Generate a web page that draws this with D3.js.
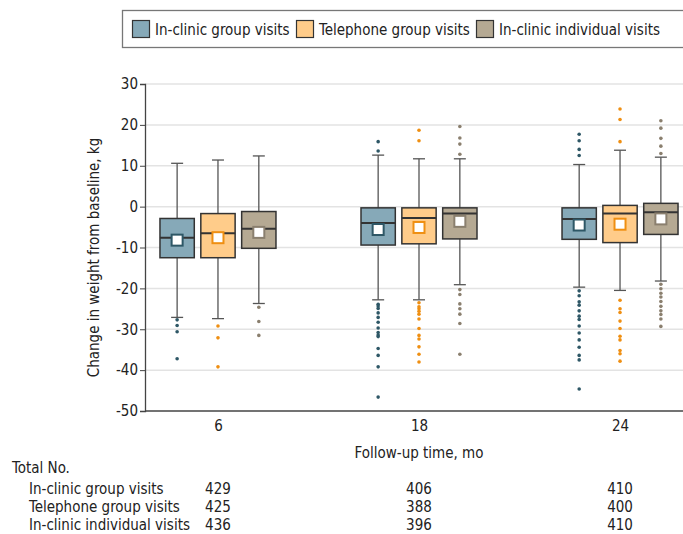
<!DOCTYPE html>
<html>
<head>
<meta charset="utf-8">
<script src="https://cdn.jsdelivr.net/npm/d3@7"></script>
<style>
  body { margin: 0; background: #fff; }
  svg text { font-family: "Liberation Sans Narrow", "DejaVu Sans Condensed", "Roboto", sans-serif; fill: #222; }
</style>
</head>
<body>
<div id="chart"></div>
<script>
// data
const months = ["6", "18", "24"];
const groups = ["In-clinic group visits", "Telephone group visits", "In-clinic individual visits"];
const fills = ["#86a9b8", "#ffcc8a", "#b5a993"];
const darks = ["#2e5766", "#ef8f12", "#8a7f6e"];
const yTicks = [30, 20, 10, 0, -10, -20, -30, -40, -50];

// [q1, median, q3, whiskerLow, whiskerHigh, mean] per month, per group
const statsClinicGroup = [
  [-12.5, -7.6, -2.9, -27.1, 10.6, -8.2],
  [-9.4, -4.0, -0.3, -22.8, 12.6, -5.6],
  [-8.0, -3.0, -0.3, -19.7, 10.3, -4.5]
];
const statsTelephone = [
  [-12.5, -6.5, -1.7, -27.4, 11.4, -7.6],
  [-9.1, -2.8, -0.3, -22.8, 11.7, -5.1],
  [-8.8, -1.7, 0.3, -20.5, 13.8, -4.3]
];
const statsIndividual = [
  [-10.2, -5.4, -1.2, -23.7, 12.4, -6.3],
  [-7.9, -1.7, -0.3, -19.1, 11.7, -3.6],
  [-6.8, -1.4, 0.8, -18.2, 12.1, -3.0]
];

const outClinicGroup = [
  [-27.7, -29.1, -30.6, -37.2],
  [13.6, 15.9, -23.9, -24.3, -24.9, -26.0, -27.1, -28.3, -29.7, -30.8, -31.4, -31.8, -34.7, -36.4, -39.2, -46.6],
  [17.7, 16.1, 14.0, 12.5, -20.6, -21.8, -23.3, -24.1, -25.5, -26.8, -27.6, -29.2, -30.9, -32.6, -34.4, -36.4, -37.5, -44.6]
];
const outTelephone = [
  [-29.2, -32.1, -39.2],
  [18.7, 16.1, -23.5, -24.5, -25.0, -25.6, -26.3, -27.5, -29.8, -31.5, -32.4, -34.3, -36.1, -38.0],
  [23.9, 21.3, 15.9, -22.9, -25.0, -25.9, -28.0, -29.8, -31.7, -32.6, -35.2, -36.0, -37.8]
];
const outIndividual = [
  [-24.6, -28.1, -31.5],
  [19.6, 16.8, 15.3, 12.8, -20.3, -21.5, -23.8, -25.0, -26.3, -28.6, -36.1],
  [21.0, 19.2, 16.7, 14.8, 13.0, -19.0, -20.1, -21.2, -22.1, -23.2, -24.4, -25.5, -26.4, -27.5, -29.3]
];

const totalClinicGroup = [429, 406, 410];
const totalTelephone = [425, 388, 400];
const totalIndividual = [436, 396, 410];

const allStats = [statsClinicGroup, statsTelephone, statsIndividual];
const allOut = [outClinicGroup, outTelephone, outIndividual];
const allTotals = [totalClinicGroup, totalTelephone, totalIndividual];

const W = 683, H = 534;
const margin = {top: 84, right: 0, bottom: 123, left: 145};
const plotW = W - margin.left - margin.right;
const plotH = H - margin.top - margin.bottom;

const svg = d3.select("#chart").append("svg")
  .attr("width", W).attr("height", H);

const y = d3.scaleLinear().domain([-50, 30]).range([margin.top + plotH, margin.top]);
const x = d3.scalePoint().domain(months).range([margin.left, margin.left + 548]).padding(0.363);
const xg = d3.scaleBand().domain(d3.range(groups.length)).range([-58, 58]).paddingInner(0.16);

// grid lines
svg.append("g")
  .selectAll("line")
  .data(yTicks.filter(d => d > -50))
  .join("line")
    .attr("x1", margin.left).attr("x2", W)
    .attr("y1", d => y(d)).attr("y2", d => y(d))
    .attr("stroke", "#e3e3e3").attr("stroke-width", 1.5);

// y axis
const yAxis = svg.append("g")
  .attr("transform", `translate(${margin.left},0)`)
  .call(d3.axisLeft(y).tickValues(yTicks).tickSize(5).tickFormat(d => d < 0 ? "-" + Math.abs(d) : d));
yAxis.select(".domain").attr("stroke", "#444").attr("stroke-width", 1.3);
yAxis.selectAll(".tick line").attr("stroke", "#444");
yAxis.selectAll("text").style("font-size", "15px").attr("x", -7);

// x axis
const xAxis = svg.append("g")
  .attr("transform", `translate(0,${margin.top + plotH})`)
  .call(d3.axisBottom(x).tickSize(0).tickSizeOuter(0));
xAxis.select(".domain").attr("d", `M${margin.left},0H${W}`).attr("stroke", "#444").attr("stroke-width", 1.3);
xAxis.selectAll("text").style("font-size", "15px").attr("dy", "1.15em");

svg.append("text")
  .attr("x", x("18")).attr("y", 458)
  .attr("text-anchor", "middle").style("font-size", "15px")
  .text("Follow-up time, mo");

svg.append("text")
  .attr("transform", `translate(99,${y(-10) + 10}) rotate(-90)`)
  .attr("text-anchor", "middle").style("font-size", "15px")
  .text("Change in weight from baseline, kg");

// boxes
groups.forEach((g, gi) => {
  const bw = xg.bandwidth();
  months.forEach((m, mi) => {
    const [q1, med, q3, lo, hi, mean] = allStats[gi][mi];
    const cx = x(m) + xg(gi) + bw / 2;
    const gg = svg.append("g");
    gg.append("line").attr("x1", cx).attr("x2", cx).attr("y1", y(hi)).attr("y2", y(lo))
      .attr("stroke", "#555").attr("stroke-width", 1.3);
    [hi, lo].forEach(v => gg.append("line")
      .attr("x1", cx - 6).attr("x2", cx + 6).attr("y1", y(v)).attr("y2", y(v))
      .attr("stroke", "#555").attr("stroke-width", 1.3));
    gg.append("rect")
      .attr("x", cx - bw / 2).attr("width", bw)
      .attr("y", y(q3)).attr("height", y(q1) - y(q3))
      .attr("fill", fills[gi]).attr("stroke", "#333").attr("stroke-width", 1.5);
    gg.append("line").attr("x1", cx - bw / 2).attr("x2", cx + bw / 2)
      .attr("y1", y(med)).attr("y2", y(med))
      .attr("stroke", "#333").attr("stroke-width", 2);
    gg.append("rect")
      .attr("x", cx - 5.5).attr("y", y(mean) - 5.5).attr("width", 11).attr("height", 11)
      .attr("fill", "#fff").attr("stroke", darks[gi]).attr("stroke-width", 2);
    gg.selectAll("circle")
      .data(allOut[gi][mi])
      .join("circle")
        .attr("cx", cx).attr("cy", d => y(d)).attr("r", 1.8)
        .attr("fill", darks[gi]);
  });
});

// legend
const legend = svg.append("g");
legend.append("rect")
  .attr("x", 122.5).attr("y", 10.5).attr("width", 600).attr("height", 37)
  .attr("fill", "#fff").attr("stroke", "#777").attr("stroke-width", 1.3);
const legendX = [132, 296, 476];
groups.forEach((g, gi) => {
  legend.append("rect")
    .attr("x", legendX[gi] + 0.5).attr("y", 20.5).attr("width", 17).attr("height", 17)
    .attr("fill", fills[gi]).attr("stroke", "#333").attr("stroke-width", 1.2);
  legend.append("text")
    .attr("x", legendX[gi] + 23).attr("y", 35)
    .style("font-size", "15px").text(g);
});

// totals table
svg.append("text").attr("x", 12).attr("y", 473).style("font-size", "15px").text("Total No.");
groups.forEach((g, gi) => {
  const ty = 494 + gi * 18;
  svg.append("text").attr("x", 29).attr("y", ty).style("font-size", "15px").text(g);
  months.forEach((m, mi) => {
    svg.append("text").attr("x", x(m)).attr("y", ty)
      .attr("text-anchor", "middle").style("font-size", "15px")
      .text(allTotals[gi][mi]);
  });
});
</script>
</body>
</html>
